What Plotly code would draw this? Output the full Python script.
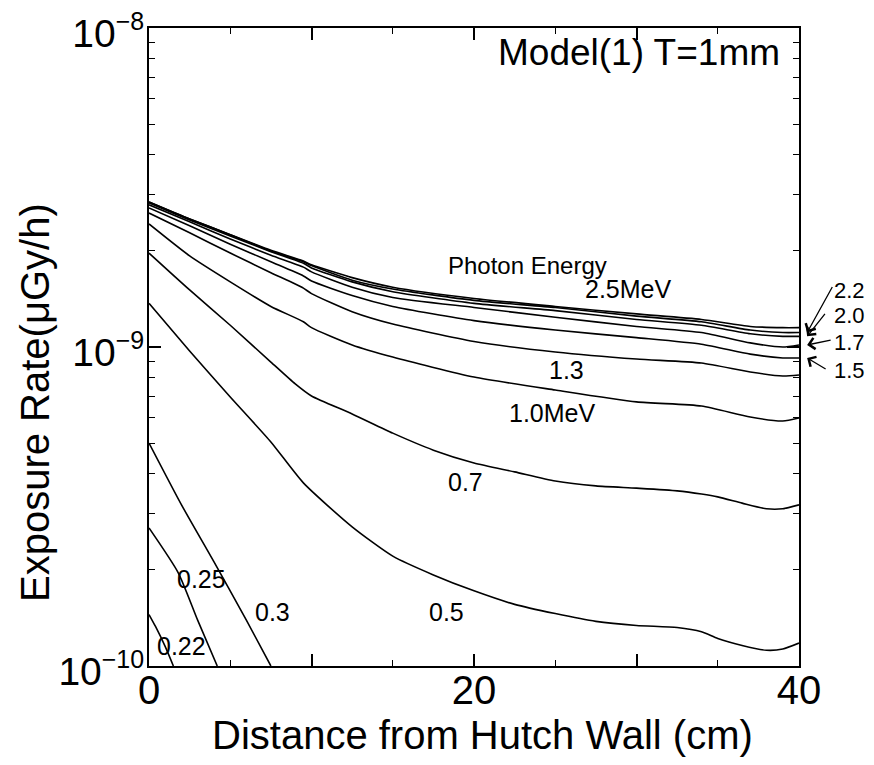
import math
import plotly.graph_objects as go

# ---- data (distance in cm, exposure rate in uGy/h) ----
x_high = [0, 2.5, 5, 7.5, 9.5, 10, 12.5, 15, 20, 25, 30, 34, 37, 39, 40]
rate_2_5 = [2.85e-9, 2.52e-9, 2.25e-9, 2.01e-9, 1.86e-9, 1.81e-9, 1.65e-9, 1.54e-9, 1.42e-9, 1.34e-9, 1.27e-9, 1.22e-9, 1.16e-9, 1.15e-9, 1.15e-9]
rate_2_2 = [2.85e-9, 2.52e-9, 2.25e-9, 2.00e-9, 1.85e-9, 1.80e-9, 1.62e-9, 1.52e-9, 1.40e-9, 1.33e-9, 1.25e-9, 1.20e-9, 1.13e-9, 1.11e-9, 1.11e-9]
rate_2_0 = [2.83e-9, 2.50e-9, 2.23e-9, 1.99e-9, 1.83e-9, 1.77e-9, 1.60e-9, 1.49e-9, 1.37e-9, 1.30e-9, 1.22e-9, 1.17e-9, 1.10e-9, 1.08e-9, 1.08e-9]
rate_1_7 = [2.79e-9, 2.47e-9, 2.18e-9, 1.94e-9, 1.78e-9, 1.72e-9, 1.54e-9, 1.43e-9, 1.33e-9, 1.24e-9, 1.16e-9, 1.11e-9, 1.03e-9, 1.00e-9, 1.015e-9]
rate_1_5 = [2.73e-9, 2.40e-9, 2.10e-9, 1.85e-9, 1.67e-9, 1.61e-9, 1.45e-9, 1.34e-9, 1.21e-9, 1.13e-9, 1.07e-9, 1.02e-9, 9.5e-10, 9.24e-10, 9.24e-10]
rate_1_3 = [2.63e-9, 2.28e-9, 1.97e-9, 1.71e-9, 1.53e-9, 1.47e-9, 1.29e-9, 1.18e-9, 1.04e-9, 9.65e-10, 9.17e-10, 8.91e-10, 8.35e-10, 8.11e-10, 8.17e-10]
rate_1_0 = [2.43e-9, 1.93e-9, 1.60e-9, 1.34e-9, 1.20e-9, 1.15e-9, 1.015e-9, 9.3e-10, 8.05e-10, 7.33e-10, 6.73e-10, 6.53e-10, 6.03e-10, 5.86e-10, 5.99e-10]

x_07 = [0, 2.5, 5, 7.5, 9, 10, 12.5, 15, 17.5, 20, 22.5, 25, 27.5, 30, 32.5, 34, 35, 36.5, 38, 39, 40]
rate_0_7 = [1.97e-9, 1.51e-9, 1.17e-9, 8.97e-10, 7.66e-10, 7.02e-10, 6.17e-10, 5.37e-10, 4.75e-10, 4.33e-10, 4.06e-10, 3.80e-10, 3.67e-10, 3.61e-10, 3.54e-10, 3.46e-10, 3.39e-10, 3.24e-10, 3.11e-10, 3.11e-10, 3.20e-10]

x_05 = [0, 2.5, 5, 7.5, 9.5, 12.5, 15, 17.5, 20, 22.5, 25, 27.5, 30, 32.5, 34, 35, 36.5, 38, 39, 40]
rate_0_5 = [1.37e-9, 9.72e-10, 6.97e-10, 5.04e-10, 3.75e-10, 2.73e-10, 2.21e-10, 1.93e-10, 1.72e-10, 1.56e-10, 1.46e-10, 1.38e-10, 1.34e-10, 1.32e-10, 1.28e-10, 1.22e-10, 1.16e-10, 1.12e-10, 1.13e-10, 1.18e-10]

x_03 = [0, 2, 4, 6, 7.5]
rate_0_3 = [5.0e-10, 3.2e-10, 2.12e-10, 1.39e-10, 1.0e-10]
x_025 = [0, 1.8, 3, 4.2]
rate_0_25 = [2.71e-10, 1.96e-10, 1.39e-10, 1.0e-10]
x_022 = [0, 0.4, 1.0, 1.5]
rate_0_22 = [1.45e-10, 1.33e-10, 1.15e-10, 1.0e-10]

curves = [
    ("2.5", x_high, rate_2_5), ("2.2", x_high, rate_2_2), ("2.0", x_high, rate_2_0),
    ("1.7", x_high, rate_1_7), ("1.5", x_high, rate_1_5), ("1.3", x_high, rate_1_3),
    ("1.0", x_high, rate_1_0), ("0.7", x_07, rate_0_7), ("0.5", x_05, rate_0_5),
    ("0.3", x_03, rate_0_3), ("0.25", x_025, rate_0_25), ("0.22", x_022, rate_0_22),
]

x_tick_vals = [0, 10, 20, 30, 40]
x_tick_text = ["0", "", "20", "", "40"]
y_tick_vals = [1e-10, 1e-9, 1e-8]
y_tick_text = [
    '10<sup><span style="font-size:25px">\u221210</span></sup>',
    '10<sup><span style="font-size:25px">\u22129</span></sup>',
    '10<sup><span style="font-size:25px">\u22128</span></sup>',
]
y_minor_vals = [m * 10.0 ** e for e in (-10, -9) for m in range(2, 10)]

X_RANGE = [0, 40]
Y_RANGE = [-10, -8]

FONT = "Liberation Sans, Arial, Helvetica, sans-serif"

fig = go.Figure()
for name, xs, ys in curves:
    fig.add_trace(go.Scatter(
        x=xs, y=ys, mode="lines", name=name,
        line=dict(color="black", width=1.6, shape="spline", smoothing=0.6),
        showlegend=False, hoverinfo="skip",
    ))

annotations = []
# in-plot curve labels (x in cm, y in log10 units)
inline_labels = [
    ("Photon Energy", 23.3, -8.746, 24),
    ("2.5MeV", 29.5, -8.818, 25),
    ("1.3", 25.7, -9.072, 25),
    ("1.0MeV", 24.8, -9.207, 25),
    ("0.7", 19.5, -9.423, 25),
    ("0.5", 18.3, -9.831, 25),
    ("0.3", 7.57, -9.831, 25),
    ("0.25", 3.26, -9.727, 25),
    ("0.22", 2.03, -9.937, 25),
]
for txt, xx, yy, fs in inline_labels:
    annotations.append(dict(x=xx, y=yy, xref="x", yref="y", text=txt, showarrow=False,
                            font=dict(family=FONT, size=fs, color="black"),
                            xanchor="center", yanchor="middle"))


def to_paper_x(xv):
    return (xv - X_RANGE[0]) / (X_RANGE[1] - X_RANGE[0])


def to_paper_y(v):
    return (math.log10(v) - Y_RANGE[0]) / (Y_RANGE[1] - Y_RANGE[0])


# right-hand labels (outside the plot) with arrows pointing at curve ends
arrow_specs = [
    ("2.2", rate_2_2, 0.5885, 26, -47),
    ("2.0", rate_2_0, 0.5495, 19, -24),
    ("1.7", rate_1_7, 0.5078, 25, -5),
    ("1.5", rate_1_5, 0.4639, 20, 12),
]
for txt, series, label_py, ax, ay in arrow_specs:
    annotations.append(dict(x=1.0525, y=label_py, xref="paper", yref="paper", text=txt,
                            showarrow=False, font=dict(family=FONT, size=22, color="black"),
                            xanchor="left", yanchor="middle", borderpad=0))
    annotations.append(dict(x=to_paper_x(40.5), y=to_paper_y(series[-1]), xref="paper", yref="paper",
                            text="", showarrow=True, ax=ax, ay=ay,
                            arrowhead=4, arrowsize=1.7, arrowwidth=1.3, arrowcolor="black"))

annotations.append(dict(x=0.9738, y=0.962, xref="paper", yref="paper", text="Model(1) T=1mm",
                        showarrow=False, xanchor="right", yanchor="middle",
                        font=dict(family=FONT, size=37, color="black")))
annotations.append(dict(x=0.5138, y=-0.108, xref="paper", yref="paper",
                        text="Distance from Hutch Wall (cm)", showarrow=False,
                        xanchor="center", yanchor="middle",
                        font=dict(family=FONT, size=40, color="black")))
annotations.append(dict(x=-0.1754, y=0.4138, xref="paper", yref="paper",
                        text="Exposure Rate(\u03bcGy/h)", showarrow=False, textangle=-90,
                        xanchor="center", yanchor="middle",
                        font=dict(family=FONT, size=40, color="black")))

fig.update_layout(
    width=866, height=757,
    margin=dict(l=141, r=75, t=20, b=99, autoexpand=False),
    paper_bgcolor="white", plot_bgcolor="white",
    font=dict(family=FONT, color="black"),
    annotations=annotations,
    xaxis=dict(
        range=X_RANGE, showgrid=False, zeroline=False, automargin=False,
        showline=True, linecolor="black", linewidth=2, mirror="allticks",
        ticks="inside", ticklen=12, tickwidth=1.5, tickcolor="black",
        tickmode="array", tickvals=x_tick_vals, ticktext=x_tick_text,
        tickfont=dict(family=FONT, size=40, color="black"),
        ticklabelstandoff=-12, ticklabeloverflow="allow",
        minor=dict(ticks="inside", ticklen=6, tickwidth=1.2, tickcolor="black",
                   dtick=5, tick0=0, showgrid=False),
    ),
    yaxis=dict(
        type="log", range=Y_RANGE, showgrid=False, zeroline=False, automargin=False,
        showline=True, linecolor="black", linewidth=2, mirror="allticks",
        ticks="inside", ticklen=12, tickwidth=1.5, tickcolor="black",
        tickmode="array", tickvals=y_tick_vals, ticktext=y_tick_text,
        tickfont=dict(family=FONT, size=39, color="black"),
        ticklabelstandoff=-5, ticklabelshift=5, ticklabeloverflow="allow",
        minor=dict(ticks="inside", ticklen=6, tickwidth=1.2, tickcolor="black",
                   tickvals=y_minor_vals, showgrid=False),
    ),
)

fig.write_html("out.html")
